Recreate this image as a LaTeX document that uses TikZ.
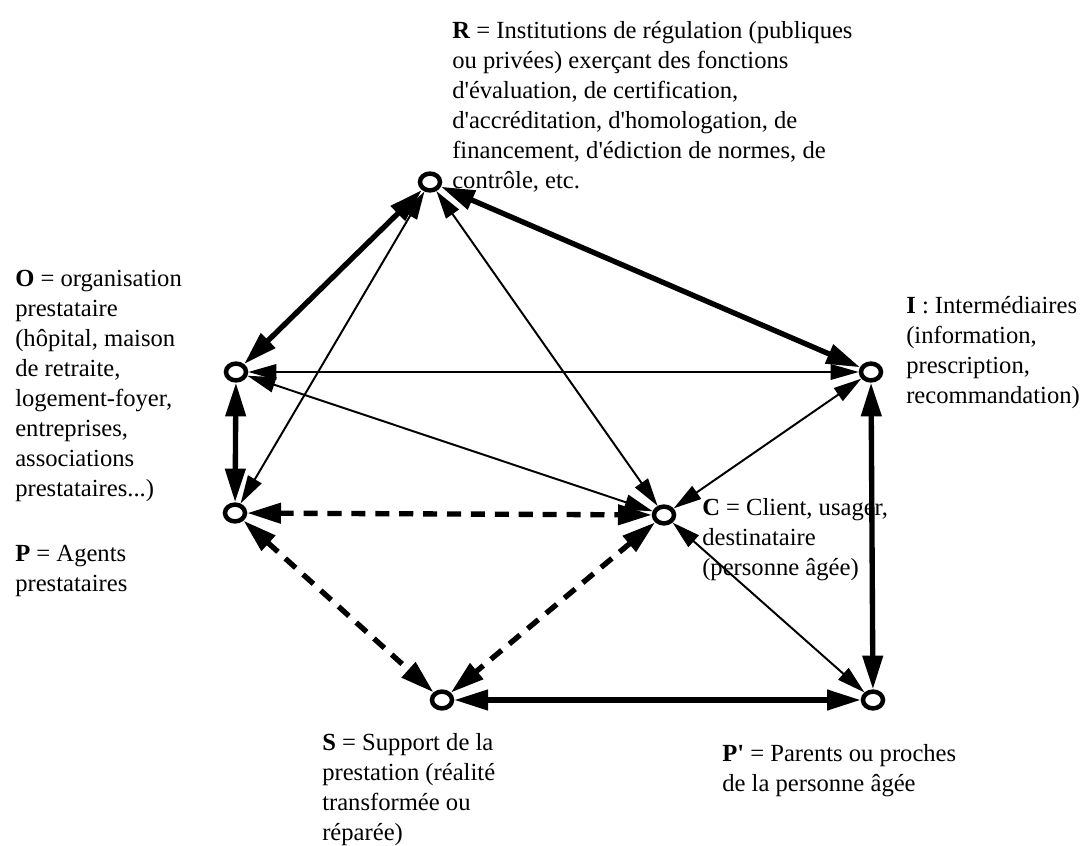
\documentclass[tikz,border=0pt]{standalone}
\usepackage{fontspec}
\setmainfont{Liberation Serif}[Ligatures=TeXOff]
\usetikzlibrary{arrows.meta,shapes.geometric}

\begin{document}
\begin{tikzpicture}[x=0.025cm, y=-0.025cm,
    pt/.style={draw, ellipse, line width=3.2pt, minimum width=0.5cm, minimum height=0.42cm, inner sep=0pt},
    lbl/.style={anchor=north west, align=left, inner sep=0pt, font=\fontsize{17.5}{21.3}\selectfont},
    strong/.style={line width=3.8pt, {Triangle[length=24pt,width=14pt]}-{Triangle[length=24pt,width=14pt]}},
    light/.style={line width=1.4pt, {Triangle[length=20pt,width=11pt]}-{Triangle[length=20pt,width=11pt]}},
    dashy/.style={strong, dash pattern=on 10pt off 7pt}]
        \useasboundingbox (0,0) rectangle (1081,846);

        % Actors
        \node[pt] (r) at (430,182) {};
        \node[pt] (o) at (236,372) {};
        \node[pt] (i) at (871,372) {};
        \node[pt] (p) at (235,513) {};
        \node[pt] (c) at (664,515) {};
        \node[pt] (s) at (442,700) {};
        \node[pt] (pp) at (873,700) {};

        % Labels
        \node[lbl] (rtext) at (452,21) {\textbf{R} = Institutions de régulation (publiques\\ou privées) exerçant des fonctions\\d'évaluation, de certification,\\d'accréditation, d'homologation, de\\financement, d'édiction de normes, de\\contrôle, etc.};
        \node[lbl] (otext) at (15,270) {\textbf{O} = organisation\\prestataire\\(hôpital, maison\\de retraite,\\logement-foyer,\\entreprises,\\associations\\prestataires...)};
        \node[lbl] (itext) at (906,296) {\textbf{I} : Intermédiaires\\(information,\\prescription,\\recommandation)};
        \node[lbl] (ptext) at (15,545) {\textbf{P} = Agents\\prestataires};
        \node[lbl] (ctext) at (702,498) {\textbf{C} = Client, usager,\\destinataire\\(personne âgée)};
        \node[lbl] (stext) at (322,733) {\textbf{S} = Support de la\\prestation (réalité\\transformée ou\\réparée)};
        \node[lbl] (pptext) at (722,744) {\textbf{P'} = Parents ou proches\\de la personne âgée};

        % Strong links
        \draw[strong] (r) -- (o);
        \draw[strong] (r) -- (i);
        \draw[strong] (o) -- (p);
        \draw[strong] (i) -- (pp);
        \draw[strong] (s) -- (pp);

        % Light links
        \draw[light] (r) -- (p);
        \draw[light] (r) -- (c);
        \draw[light] (o) -- (i);
        \draw[light] (o) -- (c);
        \draw[light] (i) -- (c);
        \draw[light] (c) -- (pp);

        % Dashed links
        \draw[dashy] (p) -- (c);
        \draw[dashy] (p) -- (s);
        \draw[dashy] (c) -- (s);
\end{tikzpicture}
\end{document}
